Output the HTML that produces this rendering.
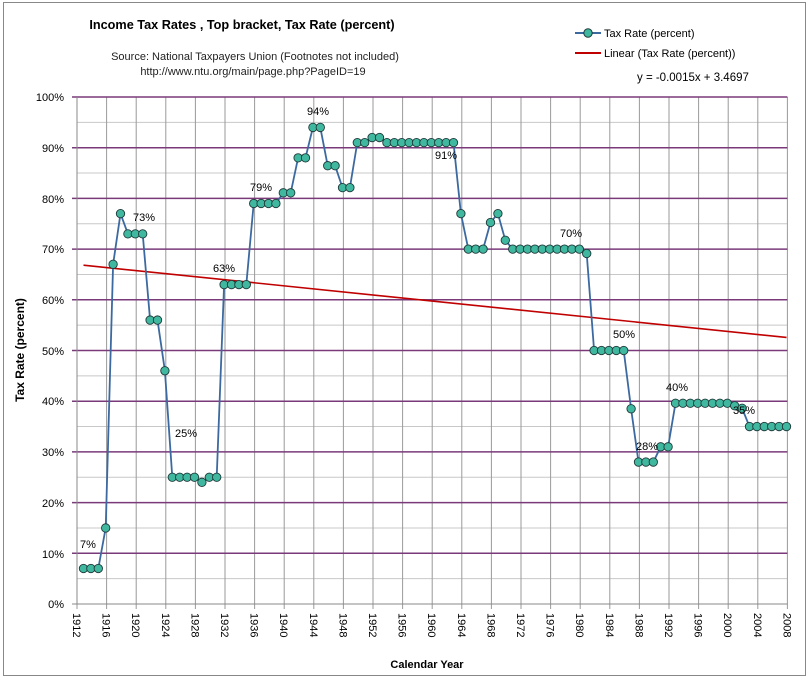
<!DOCTYPE html>
<html><head><meta charset="utf-8"><style>
body{margin:0;background:#fff}
svg{display:block;font-family:"Liberation Sans",sans-serif}
</style></head><body>
<svg id="c" width="809" height="678" xmlns="http://www.w3.org/2000/svg">
<rect x="0" y="0" width="809" height="678" fill="#fff"/>
<rect x="3.5" y="2.5" width="802" height="673" fill="none" stroke="#888"/>
<g id="grid"></g>
<text x="242" y="29" font-size="12.7" font-weight="bold" text-anchor="middle">Income Tax Rates ,  Top bracket,  Tax Rate (percent)</text>
<text x="255" y="60" font-size="11" text-anchor="middle" fill="#222">Source: National Taxpayers Union (Footnotes not included)</text>
<text x="253" y="75" font-size="11" text-anchor="middle" fill="#222">http://www.ntu.org/main/page.php?PageID=19</text>
<line x1="575" y1="33" x2="601" y2="33" stroke="#3c6aa0" stroke-width="2"/>
<circle cx="588" cy="33" r="4.2" fill="#40b8a0" stroke="#1e3a3a"/>
<text x="604" y="37" font-size="11">Tax Rate (percent)</text>
<line x1="575" y1="53" x2="601" y2="53" stroke="#c00000" stroke-width="2"/>
<text x="604" y="57" font-size="11">Linear (Tax Rate (percent))</text>
<text x="637" y="81" font-size="11.5">y = -0.0015x + 3.4697</text>
<g font-size="11" text-anchor="end">
<text x="64" y="101">100%</text><text x="64" y="152">90%</text><text x="64" y="203">80%</text><text x="64" y="253">70%</text><text x="64" y="304">60%</text><text x="64" y="355">50%</text><text x="64" y="405">40%</text><text x="64" y="456">30%</text><text x="64" y="507">20%</text><text x="64" y="558">10%</text><text x="64" y="608">0%</text>
</g>
<g font-size="11" id="xl">
<text transform="translate(73,613) rotate(90)">1912</text>
<text transform="translate(102.6,613) rotate(90)">1916</text>
<text transform="translate(132.2,613) rotate(90)">1920</text>
<text transform="translate(161.8,613) rotate(90)">1924</text>
<text transform="translate(191.4,613) rotate(90)">1928</text>
<text transform="translate(221,613) rotate(90)">1932</text>
<text transform="translate(250.6,613) rotate(90)">1936</text>
<text transform="translate(280.2,613) rotate(90)">1940</text>
<text transform="translate(309.8,613) rotate(90)">1944</text>
<text transform="translate(339.4,613) rotate(90)">1948</text>
<text transform="translate(369,613) rotate(90)">1952</text>
<text transform="translate(398.6,613) rotate(90)">1956</text>
<text transform="translate(428.2,613) rotate(90)">1960</text>
<text transform="translate(457.8,613) rotate(90)">1964</text>
<text transform="translate(487.4,613) rotate(90)">1968</text>
<text transform="translate(517,613) rotate(90)">1972</text>
<text transform="translate(546.6,613) rotate(90)">1976</text>
<text transform="translate(576.2,613) rotate(90)">1980</text>
<text transform="translate(605.8,613) rotate(90)">1984</text>
<text transform="translate(635.4,613) rotate(90)">1988</text>
<text transform="translate(665,613) rotate(90)">1992</text>
<text transform="translate(694.6,613) rotate(90)">1996</text>
<text transform="translate(724.2,613) rotate(90)">2000</text>
<text transform="translate(753.8,613) rotate(90)">2004</text>
<text transform="translate(783.4,613) rotate(90)">2008</text>
</g>
<text x="427" y="668" font-size="11" font-weight="bold" text-anchor="middle">Calendar Year</text>
<text transform="translate(24,350) rotate(-90)" font-size="12" font-weight="bold" text-anchor="middle">Tax Rate (percent)</text>
<g id="series"></g>
<g font-size="11" text-anchor="middle">
<text x="88" y="548">7%</text><text x="144" y="221">73%</text><text x="186" y="437">25%</text><text x="224" y="272">63%</text><text x="261" y="191">79%</text><text x="318" y="115">94%</text><text x="446" y="159">91%</text><text x="571" y="237">70%</text><text x="624" y="338">50%</text><text x="647" y="450">28%</text><text x="677" y="391">40%</text><text x="744" y="414">35%</text>
</g>
</svg>
<script>
var NS="http://www.w3.org/2000/svg";
function el(p,t,a){var e=document.createElementNS(NS,t);for(var k in a)e.setAttribute(k,a[k]);p.appendChild(e);return e;}
var g=document.getElementById('grid'),s=document.getElementById('series');
var X0=77,PX=7.4,Y0=604,PY=5.07;
for(var i=0;i<20;i++){var v=i*5;var y=Y0-v*PY;
 if(i%2==1) el(g,'line',{x1:X0,x2:787.4,y1:y,y2:y,stroke:'#c8c8c8','stroke-width':1});}
for(var yr=1912;yr<=2008;yr+=4){var x=X0+(yr-1912)*PX;el(g,'line',{x1:x,x2:x,y1:97,y2:609,stroke:'#9a9a9a','stroke-width':1});}
for(var i=1;i<=10;i++){var y=Y0-i*10*PY;el(g,'line',{x1:72,x2:787.4,y1:y,y2:y,stroke:'#7a3a7a','stroke-width':1.5});}
el(g,'line',{x1:72,x2:X0,y1:Y0,y2:Y0,stroke:'#888'});
el(g,'line',{x1:X0,x2:787.4,y1:Y0,y2:Y0,stroke:'#888'});
el(g,'line',{x1:X0,x2:X0,y1:97,y2:Y0,stroke:'#888'});
var d={1913:7,1914:7,1915:7,1916:15,1917:67,1918:77,1919:73,1920:73,1921:73,1922:56,1923:56,1924:46,1925:25,1926:25,1927:25,1928:25,1929:24,1930:25,1931:25,1932:63,1933:63,1934:63,1935:63,1936:79,1937:79,1938:79,1939:79,1940:81.1,1941:81.1,1942:88,1943:88,1944:94,1945:94,1946:86.45,1947:86.45,1948:82.13,1949:82.13,1950:91,1951:91,1952:92,1953:92,1964:77,1965:70,1966:70,1967:70,1968:75.25,1969:77,1970:71.75,1981:69.13,1987:38.5,1988:28,1989:28,1990:28,1991:31,1992:31,2001:39.1,2002:38.6};
for(var y=1954;y<=1963;y++)d[y]=91;for(var y=1971;y<=1980;y++)d[y]=70;for(var y=1982;y<=1986;y++)d[y]=50;
for(var y=1993;y<=2000;y++)d[y]=39.6;for(var y=2003;y<=2008;y++)d[y]=35;
var pts=[];for(var y=1913;y<=2008;y++){pts.push([76.1+(y-1912)*PX,Y0-d[y]*PY]);}
el(s,'line',{x1:pts[0][0],y1:Y0-(66.97-0.15)*PY,x2:pts[95][0],y2:Y0-(66.97-0.15*96)*PY,stroke:'#c00000','stroke-width':1.6});
el(s,'polyline',{points:pts.map(function(p){return p.join(',')}).join(' '),fill:'none',stroke:'#3c6aa0','stroke-width':1.8});
pts.forEach(function(p){el(s,'circle',{cx:p[0],cy:p[1],r:4.2,fill:'#40b8a0',stroke:'#1e3a3a','stroke-width':0.9});});
</script>
</body></html>
